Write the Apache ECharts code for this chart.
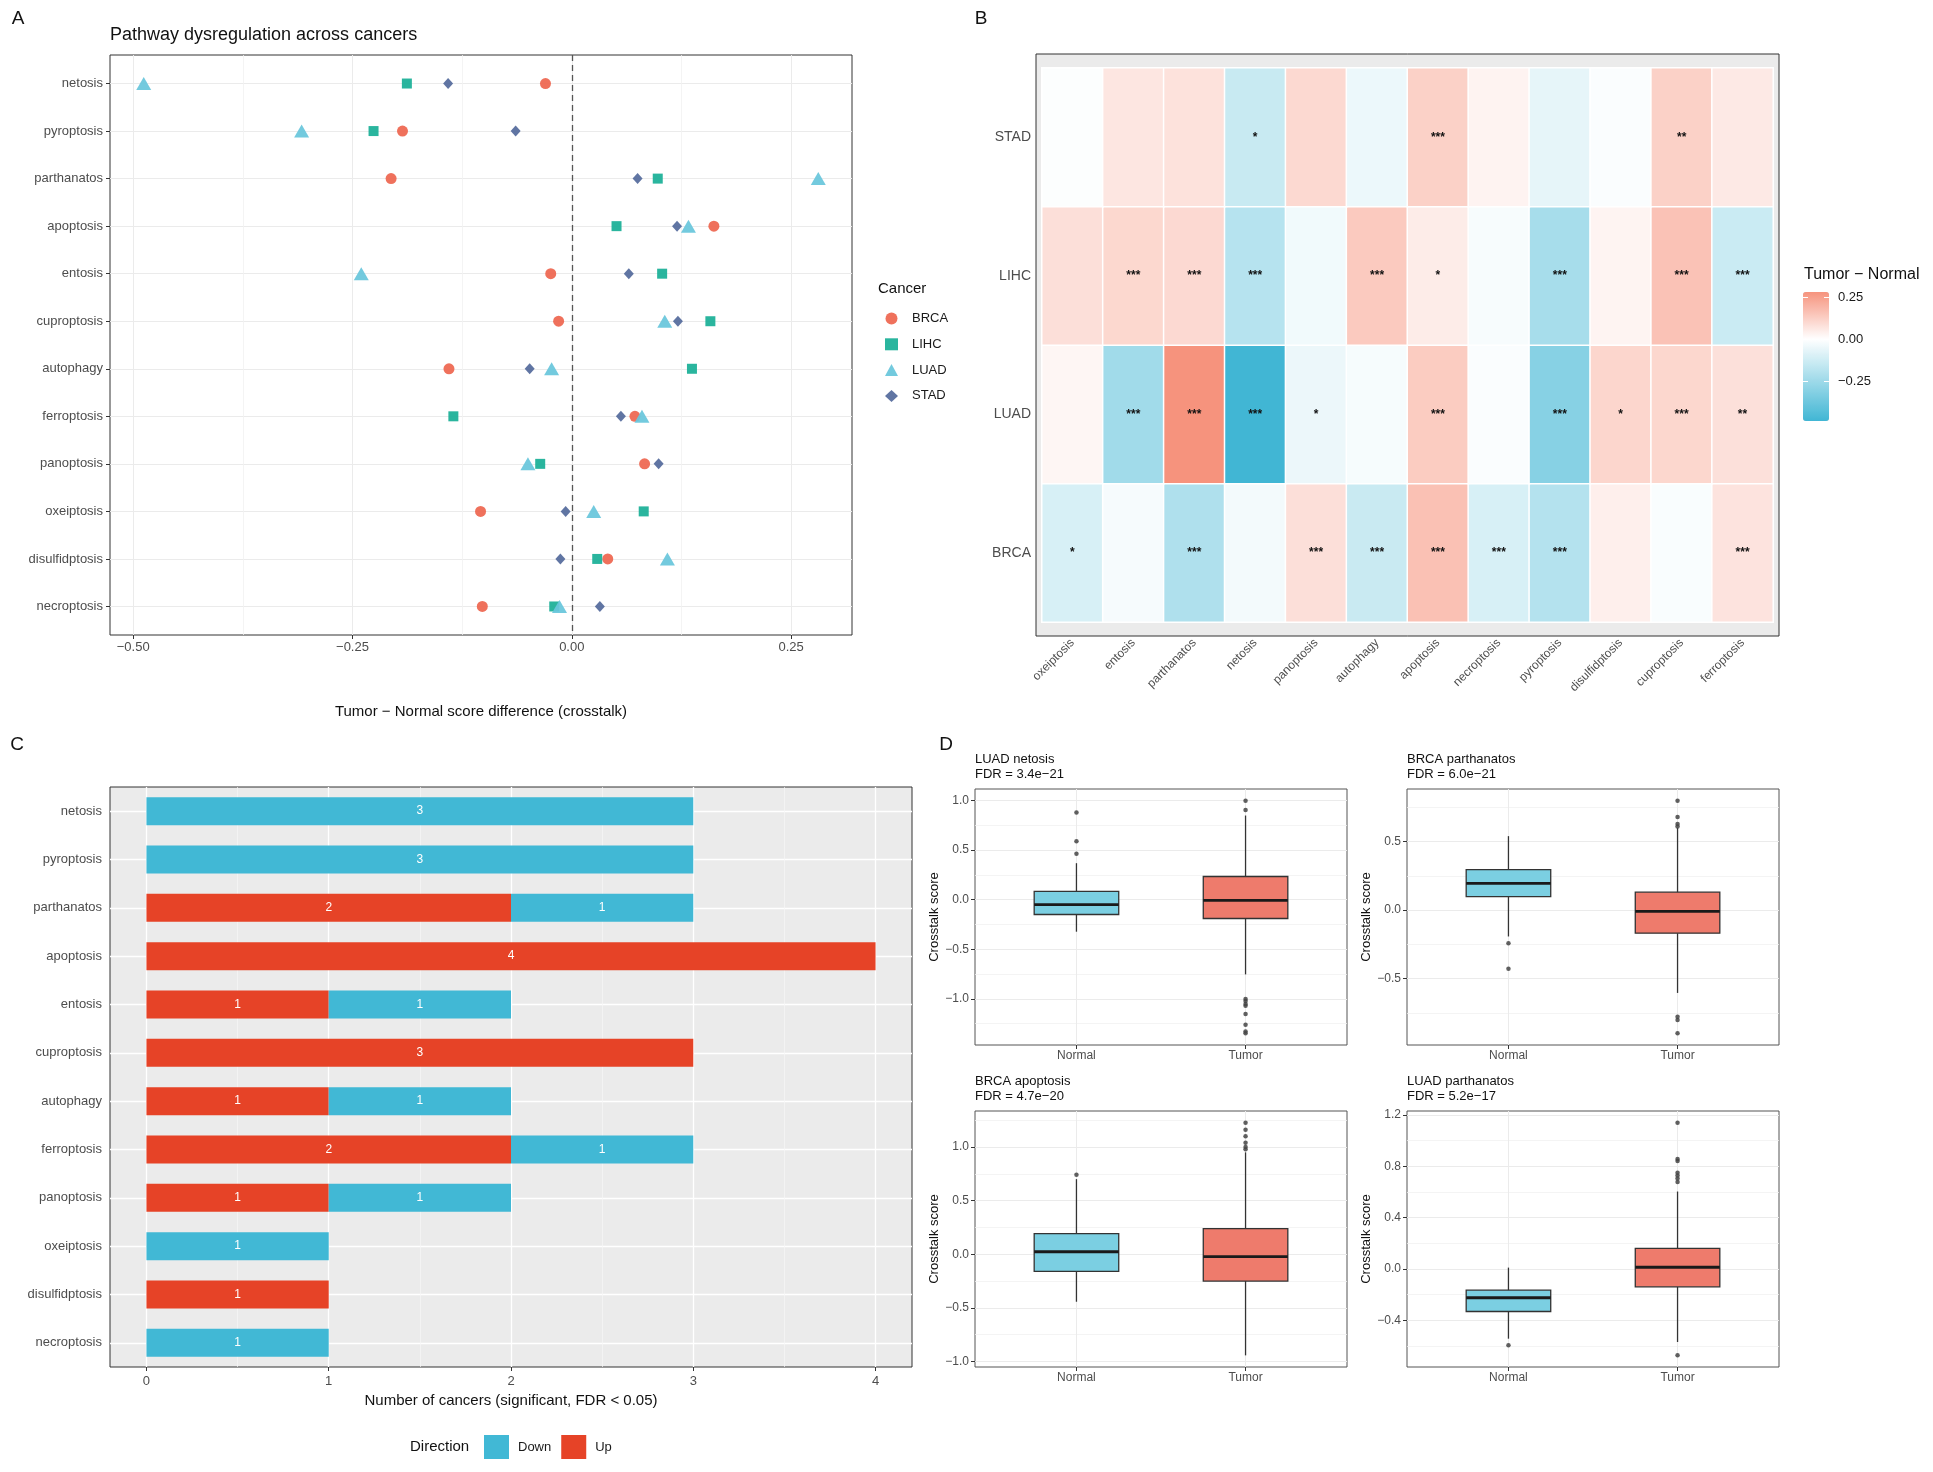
<!DOCTYPE html>
<html>
<head>
<meta charset="utf-8">
<script src="https://cdn.jsdelivr.net/npm/echarts@6/dist/echarts.min.js"></script>
<style>
html, body { margin: 0; padding: 0; background: #fff; }
#chart { width: 1933px; height: 1472px; }
</style>
</head>
<body>
<div id="chart"></div>
<script>
// ---------------- data ----------------
const pathways = ['netosis', 'pyroptosis', 'parthanatos', 'apoptosis', 'entosis', 'cuproptosis',
  'autophagy', 'ferroptosis', 'panoptosis', 'oxeiptosis', 'disulfidptosis', 'necroptosis'];

// A: tumor - normal score difference, in pathways order
const cancers = ['BRCA', 'LIHC', 'LUAD', 'STAD'];
const diffBRCA = [-0.030, -0.193, -0.206, 0.162, -0.024, -0.015, -0.140, 0.072, 0.083, -0.104, 0.041, -0.102];
const diffLIHC = [-0.188, -0.226, 0.098, 0.051, 0.103, 0.158, 0.137, -0.135, -0.036, 0.082, 0.029, -0.020];
const diffLUAD = [-0.488, -0.308, 0.281, 0.133, -0.240, 0.106, -0.023, 0.080, -0.050, 0.025, 0.109, -0.014];
const diffSTAD = [-0.141, -0.064, 0.075, 0.120, 0.065, 0.121, -0.048, 0.056, 0.099, -0.007, -0.013, 0.032];
const diffTicks = [-0.5, -0.25, 0, 0.25];

// B: heatmap columns / rows (bottom to top) and significance
const heatCols = ['oxeiptosis', 'entosis', 'parthanatos', 'netosis', 'panoptosis', 'autophagy',
  'apoptosis', 'necroptosis', 'pyroptosis', 'disulfidptosis', 'cuproptosis', 'ferroptosis'];
const heatRows = ['BRCA', 'LUAD', 'LIHC', 'STAD'];
const starsSTAD = ['', '', '', '*', '', '', '***', '', '', '', '**', ''];
const starsLIHC = ['', '***', '***', '***', '', '***', '*', '', '***', '', '***', '***'];
const starsLUAD = ['', '***', '***', '***', '*', '', '***', '', '***', '*', '***', '**'];
const starsBRCA = ['*', '', '***', '', '***', '***', '***', '***', '***', '', '', '***'];
const heatTicks = [-0.25, 0, 0.25];

// C: number of cancers significant, in pathways order
const upCounts = [0, 0, 2, 4, 1, 3, 1, 2, 1, 0, 1, 0];
const downCounts = [3, 3, 1, 0, 1, 0, 1, 1, 1, 1, 0, 1];
const countTicks = [0, 1, 2, 3, 4];

// D: boxplots [min, Q1, median, Q3, max]
const groups = ['Normal', 'Tumor'];
const boxTitles = ['LUAD netosis', 'BRCA parthanatos', 'BRCA apoptosis', 'LUAD parthanatos'];
const boxFdr = ['3.4e\u221221', '6.0e\u221221', '4.7e\u221220', '5.2e\u221217'];
const normalStats = [
  [-0.323, -0.150, -0.050, 0.083, 0.367],
  [-0.192, 0.098, 0.195, 0.296, 0.540],
  [-0.443, -0.160, 0.023, 0.193, 0.700],
  [-0.544, -0.332, -0.225, -0.166, 0.010]
];
const tumorStats = [
  [-0.753, -0.190, -0.007, 0.233, 0.847],
  [-0.604, -0.168, -0.009, 0.131, 0.600],
  [-0.943, -0.250, -0.023, 0.239, 0.950],
  [-0.570, -0.140, 0.013, 0.160, 0.603]
];
const normalOut = [
  [0.877, 0.587, 0.463],
  [-0.241, -0.427],
  [0.740],
  [-0.596]
];
const tumorOut = [
  [0.997, 0.903, -1.000, -1.020, -1.050, -1.070, -1.153, -1.260, -1.327, -1.347],
  [0.799, 0.680, 0.628, 0.610, -0.777, -0.802, -0.899],
  [1.227, 1.160, 1.100, 1.040, 1.000, 0.980],
  [1.140, 0.857, 0.840, 0.750, 0.727, 0.704, 0.678, -0.674]
];
const boxTicks = [
  [-1, -0.5, 0, 0.5, 1],
  [-0.5, 0, 0.5],
  [-1, -0.5, 0, 0.5, 1],
  [-0.4, 0, 0.4, 0.8, 1.2]
];

// ---------------- style ----------------
const FONT = '"Liberation Sans", Arial, Helvetica, sans-serif';
const MINUS = '\u2212';
const cancerColors = ['#EE6650', '#1AAF97', '#68C6DC', '#546A9C'];
const cancerSymbols = ['circle', 'rect', 'triangle', 'diamond'];
const cancerSizes = [11, 10, [15, 13], [10, 11]];
const upColor = '#E64327', downColor = '#41B8D5';
const groupColors = ['#7BCFE2', '#EE7B6C'];
const heatLow = [65, 182, 212], heatHigh = [246, 147, 125];

function fmt(v, d) {
  const s = Math.abs(v) < 1e-9 ? (0).toFixed(d) : v.toFixed(d);
  return s.replace('-', MINUS);
}
function paddedRange(vals, frac) {
  const lo = Math.min(...vals), hi = Math.max(...vals);
  const p = (hi - lo) * frac;
  return [lo - p, hi + p];
}
function minorOf(ticks, range) {
  const step = ticks[1] - ticks[0], res = [];
  for (let t = ticks[0] - step / 2; t <= range[1]; t += step) {
    if (t >= range[0]) res.push(+t.toFixed(6));
  }
  return res;
}
function mix(a, b, t) {
  return 'rgb(' + a.map((c, i) => Math.round(c + (b[i] - c) * t)).join(',') + ')';
}

const noLine = { show: false, onZero: false };
const tickText = { color: '#4D4D4D', fontSize: 13, fontFamily: FONT };
const darkTick = { lineStyle: { color: '#333', width: 1 }, length: 4 };
const lightGrid = { show: true, lineStyle: { color: '#EBEBEB', width: 1 } };
function bareAxis(extra) {
  return Object.assign({
    show: true, axisLine: noLine, axisTick: { show: false }, axisLabel: { show: false }
  }, extra);
}

const cancerDiffs = [diffBRCA, diffLIHC, diffLUAD, diffSTAD];
const diffBy = { BRCA: diffBRCA, LIHC: diffLIHC, LUAD: diffLUAD, STAD: diffSTAD };
const starsBy = { BRCA: starsBRCA, LIHC: starsLIHC, LUAD: starsLUAD, STAD: starsSTAD };
const pathIdx = pathways.map((_, i) => i);

// A ranges
const rangeA = paddedRange([].concat(...cancerDiffs), 0.05);
// C range
const rangeC = paddedRange([0, Math.max(...upCounts.map((u, i) => u + downCounts[i]))], 0.05);

// B heat data and colour stops
const heatData = [];
heatRows.forEach((row, r) => {
  heatCols.forEach((col, c) => {
    heatData.push([c, r, diffBy[row][pathways.indexOf(col)]]);
  });
});
const heatVals = heatData.map(d => d[2]);
const heatMin = Math.min(...heatVals), heatMax = Math.max(...heatVals);
const heatStops = [];
for (let k = 0; k <= 120; k++) {
  const v = heatMin + (heatMax - heatMin) * k / 120;
  heatStops.push(v < 0 ? mix([255, 255, 255], heatLow, Math.min(1, v / heatMin))
                       : mix([255, 255, 255], heatHigh, Math.min(1, v / heatMax)));
}

// ---------------- layout ----------------
const grids = [
  { left: 110, top: 55, width: 742, height: 580, show: true, backgroundColor: '#fff', borderColor: '#333', borderWidth: 1 },
  { left: 1042, top: 68, width: 731, height: 554, show: false },
  { left: 110, top: 787, width: 802, height: 580, show: true, backgroundColor: '#EBEBEB', borderColor: '#333', borderWidth: 1 }
];
const boxPos = [[975, 789], [1407, 789], [975, 1111], [1407, 1111]];
boxPos.forEach(p => grids.push({ left: p[0], top: p[1], width: 372, height: 256, show: true, borderColor: '#555', borderWidth: 1 }));
grids.push({ left: 1803, top: 292, width: 26, height: 129, show: false });

const xAxes = [
  // 0: A major
  { gridIndex: 0, type: 'value', min: rangeA[0], max: rangeA[1], axisLine: noLine,
    axisTick: Object.assign({ customValues: diffTicks }, darkTick),
    axisLabel: Object.assign({ customValues: diffTicks, margin: 6, formatter: v => fmt(v, 2) }, tickText),
    splitLine: lightGrid,
    name: 'Tumor \u2212 Normal score difference (crosstalk)', nameLocation: 'middle', nameGap: 69,
    nameTextStyle: { fontSize: 15, color: '#111', fontFamily: FONT } },
  // 1: A minor
  bareAxis({ gridIndex: 0, type: 'value', position: 'top', min: rangeA[0], max: rangeA[1],
    axisTick: { show: false, customValues: minorOf(diffTicks, rangeA) },
    splitLine: { show: true, lineStyle: { color: '#F1F1F1', width: 0.8 } } }),
  // 2: B columns
  { gridIndex: 1, type: 'category', data: heatCols, offset: 14, axisLine: noLine,
    axisTick: Object.assign({ alignWithLabel: true }, darkTick),
    axisLabel: Object.assign({}, tickText, { fontSize: 12, rotate: 45, margin: 5, interval: 0 }) },
  // 3: C major
  { gridIndex: 2, type: 'value', min: rangeC[0], max: rangeC[1], axisLine: noLine,
    axisTick: Object.assign({ customValues: countTicks }, darkTick),
    axisLabel: Object.assign({ customValues: countTicks, margin: 8 }, tickText),
    splitLine: { show: true, lineStyle: { color: '#fff', width: 1.3 } },
    name: 'Number of cancers (significant, FDR < 0.05)', nameLocation: 'middle', nameGap: 26,
    nameTextStyle: { fontSize: 15, color: '#111', fontFamily: FONT } },
  // 4: C minor
  bareAxis({ gridIndex: 2, type: 'value', position: 'top', min: rangeC[0], max: rangeC[1],
    axisTick: { show: false, customValues: minorOf(countTicks, rangeC) },
    splitLine: { show: true, lineStyle: { color: '#F7F7F7', width: 0.7 } } })
];
const yAxes = [
  // 0: A
  { gridIndex: 0, type: 'value', inverse: true, min: -0.6, max: pathways.length - 0.4, axisLine: noLine,
    axisTick: Object.assign({ customValues: pathIdx }, darkTick),
    axisLabel: Object.assign({ customValues: pathIdx, margin: 7, formatter: v => pathways[Math.round(v)] }, tickText),
    splitLine: lightGrid },
  // 1: B rows
  { gridIndex: 1, type: 'category', data: heatRows, offset: 6, axisLine: noLine,
    axisTick: Object.assign({ alignWithLabel: true }, darkTick),
    axisLabel: Object.assign({}, tickText, { fontSize: 14, margin: 5 }) },
  // 2: C categories
  { gridIndex: 2, type: 'category', data: pathways, inverse: true, axisLine: noLine,
    axisTick: Object.assign({ alignWithLabel: true }, darkTick),
    axisLabel: Object.assign({ margin: 8 }, tickText) },
  // 3: C row gridlines at category centres
  bareAxis({ gridIndex: 2, type: 'value', position: 'right', inverse: true, min: -0.5, max: pathways.length - 0.5,
    axisTick: { show: false, customValues: pathIdx },
    splitLine: { show: true, lineStyle: { color: '#fff', width: 1.3 } } })
];

const series = [];
cancers.forEach((name, k) => {
  const s = {
    name, type: 'scatter', xAxisIndex: 0, yAxisIndex: 0, z: 3,
    symbol: cancerSymbols[k], symbolSize: cancerSizes[k],
    itemStyle: { color: cancerColors[k], opacity: 0.93 },
    data: cancerDiffs[k].map((v, i) => [v, i])
  };
  if (k === 0) {
    s.markLine = { silent: true, symbol: 'none', label: { show: false }, animation: false,
      lineStyle: { color: '#555', type: [6, 4], width: 1.3 }, data: [{ xAxis: 0 }] };
  }
  series.push(s);
});

const heatIndex = series.length;
series.push({
  type: 'heatmap', xAxisIndex: 2, yAxisIndex: 1, data: heatData,
  itemStyle: { borderColor: '#fff', borderWidth: 1.5 },
  emphasis: { disabled: true },
  label: { show: true, color: '#111', fontSize: 12, fontWeight: 'bold', fontFamily: FONT,
    formatter: p => starsBy[heatRows[p.value[1]]][p.value[0]] }
});

series.push({
  name: 'Up', type: 'bar', stack: 'dir', xAxisIndex: 3, yAxisIndex: 2, barWidth: 28,
  itemStyle: { color: upColor }, data: upCounts,
  label: { show: true, color: '#fff', fontSize: 12, fontFamily: FONT, formatter: p => p.value ? String(p.value) : '' }
});
series.push({
  name: 'Down', type: 'bar', stack: 'dir', xAxisIndex: 3, yAxisIndex: 2, barWidth: 28,
  itemStyle: { color: downColor }, data: downCounts,
  label: { show: true, color: '#fff', fontSize: 12, fontFamily: FONT, formatter: p => p.value ? String(p.value) : '' }
});

// D panels
const titles = [{
  text: 'Pathway dysregulation across cancers', left: 110, top: 26, padding: 0,
  textStyle: { fontSize: 18, fontWeight: 'normal', color: '#111', fontFamily: FONT }
}];
function renderBox(params, api) {
  const x = api.value(0);
  const pMin = api.coord([x, api.value(1)]);
  const pQ1 = api.coord([x, api.value(2)]);
  const pMed = api.coord([x, api.value(3)]);
  const pQ3 = api.coord([x, api.value(4)]);
  const pMax = api.coord([x, api.value(5)]);
  const w = api.size([0.5, 0])[0];
  const line = { stroke: '#333', lineWidth: 1.3 };
  return { type: 'group', children: [
    { type: 'line', shape: { x1: pMax[0], y1: pMax[1], x2: pQ3[0], y2: pQ3[1] }, style: line },
    { type: 'line', shape: { x1: pQ1[0], y1: pQ1[1], x2: pMin[0], y2: pMin[1] }, style: line },
    { type: 'rect', shape: { x: pQ3[0] - w / 2, y: pQ3[1], width: w, height: pQ1[1] - pQ3[1] },
      style: { fill: groupColors[params.dataIndex], stroke: '#333', lineWidth: 1.3 } },
    { type: 'line', shape: { x1: pMed[0] - w / 2, y1: pMed[1], x2: pMed[0] + w / 2, y2: pMed[1] },
      style: { stroke: '#1a1a1a', lineWidth: 2.8 } }
  ] };
}
boxPos.forEach((p, i) => {
  const g = 3 + i;
  const range = paddedRange([].concat(normalStats[i], tumorStats[i], normalOut[i], tumorOut[i]), 0.05);
  xAxes.push({ gridIndex: g, type: 'value', min: 0.4, max: 2.6, axisLine: noLine,
    axisTick: Object.assign({ customValues: [1, 2] }, darkTick),
    axisLabel: Object.assign({}, tickText, { customValues: [1, 2], fontSize: 12, margin: 5, formatter: v => groups[Math.round(v) - 1] }),
    splitLine: lightGrid });
  yAxes.push({ gridIndex: g, type: 'value', min: range[0], max: range[1], axisLine: noLine,
    axisTick: Object.assign({ customValues: boxTicks[i] }, darkTick),
    axisLabel: Object.assign({}, tickText, { customValues: boxTicks[i], fontSize: 12, margin: 6, formatter: v => fmt(v, 1) }),
    splitLine: lightGrid,
    name: 'Crosstalk score', nameLocation: 'middle', nameGap: 33,
    nameTextStyle: { fontSize: 13, color: '#111', fontFamily: FONT } });
  yAxes.push(bareAxis({ gridIndex: g, type: 'value', position: 'right', min: range[0], max: range[1],
    axisTick: { show: false, customValues: minorOf(boxTicks[i], range) },
    splitLine: { show: true, lineStyle: { color: '#F1F1F1', width: 0.8 } } }));
  const xi = xAxes.length - 1, yi = yAxes.length - 2;
  series.push({
    type: 'custom', xAxisIndex: xi, yAxisIndex: yi, renderItem: renderBox,
    encode: { x: 0, y: [1, 2, 3, 4, 5] },
    data: [[1].concat(normalStats[i]), [2].concat(tumorStats[i])]
  });
  series.push({
    type: 'scatter', xAxisIndex: xi, yAxisIndex: yi, symbol: 'circle', symbolSize: 4.5, z: 4,
    itemStyle: { color: '#444', opacity: 0.85 },
    data: normalOut[i].map(v => [1, v]).concat(tumorOut[i].map(v => [2, v]))
  });
  titles.push({ text: boxTitles[i] + '\nFDR = ' + boxFdr[i], left: p[0], top: p[1] - 37, padding: 0,
    textStyle: { fontSize: 13, lineHeight: 15, fontWeight: 'normal', color: '#111', fontFamily: FONT } });
});

// colour bar axis (grid 7)
xAxes.push({ gridIndex: 7, type: 'value', min: 0, max: 1, show: false });
yAxes.push({ gridIndex: 7, type: 'value', position: 'right', min: heatMin, max: heatMax, z: 10,
  axisLine: noLine,
  axisTick: { show: true, inside: true, length: 5, customValues: heatTicks, lineStyle: { color: '#fff', width: 1 } },
  axisLabel: { show: true, customValues: heatTicks, margin: 9, color: '#1a1a1a', fontSize: 13, fontFamily: FONT, formatter: v => fmt(v, 2) },
  splitLine: { show: false } });
yAxes.push({ gridIndex: 7, type: 'value', position: 'left', min: heatMin, max: heatMax, z: 10,
  axisLine: noLine, axisLabel: { show: false }, splitLine: { show: false },
  axisTick: { show: true, inside: true, length: 5, customValues: heatTicks, lineStyle: { color: '#fff', width: 1 } } });

function label(text, x, y, size, align) {
  return { type: 'text', x, y, style: { text, font: size + 'px ' + FONT, fill: '#111',
    textAlign: align || 'left', textVerticalAlign: 'middle' } };
}

const option = {
  animation: false,
  textStyle: { fontFamily: FONT },
  title: titles,
  grid: grids,
  xAxis: xAxes,
  yAxis: yAxes,
  legend: [
    { data: cancers, orient: 'vertical', left: 885, top: 312, itemWidth: 13, itemHeight: 12, itemGap: 12.8,
      padding: 0, selectedMode: false,
      textStyle: { fontSize: 13, color: '#1a1a1a', fontFamily: FONT, padding: [0, 0, 0, 9] } },
    { data: ['Down', 'Up'], orient: 'horizontal', left: 484, top: 1435, itemWidth: 25, itemHeight: 24, itemGap: 10,
      icon: 'rect', padding: 0, selectedMode: false,
      textStyle: { fontSize: 13, color: '#1a1a1a', fontFamily: FONT, padding: [0, 0, 0, 4] } }
  ],
  visualMap: [{
    type: 'continuous', seriesIndex: heatIndex, dimension: 2, min: heatMin, max: heatMax,
    left: 1803, top: 292, itemWidth: 26, itemHeight: 129, padding: 0, calculable: false,
    hoverLink: false, inRange: { color: heatStops }
  }],
  graphic: { elements: [
    { type: 'rect', z: -1, shape: { x: 1036, y: 54, width: 743, height: 582 },
      style: { fill: '#EBEBEB', stroke: '#333', lineWidth: 1 } },
    label('A', 18, 19, 19, 'center'),
    label('B', 981, 19, 19, 'center'),
    label('C', 17, 745, 19, 'center'),
    label('D', 946, 745, 19, 'center'),
    label('Cancer', 878, 289, 15),
    label('Tumor \u2212 Normal', 1804, 275, 16),
    label('Direction', 410, 1447, 15)
  ] },
  series
};

const chart = echarts.init(document.getElementById('chart'));
chart.setOption(option);
window.addEventListener('resize', () => chart.resize());
</script>
</body>
</html>
